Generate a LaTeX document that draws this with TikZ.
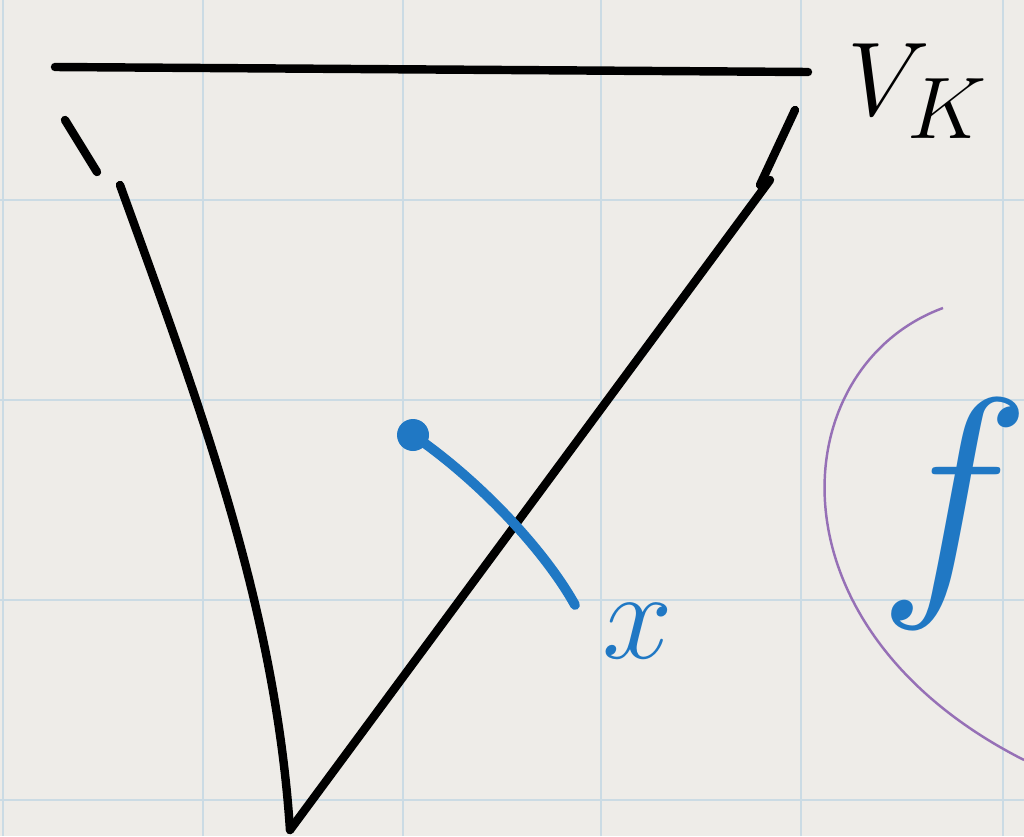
\documentclass[tikz,border=0pt]{standalone}
\usepackage{tikz}

\definecolor{paper}{RGB}{238,236,232}
\definecolor{gridblue}{RGB}{203,219,228}
\definecolor{penblue}{RGB}{32,120,196}
\definecolor{penpurple}{RGB}{150,112,182}

\tikzset{
    ink/.style={line width=2.4pt, line cap=round, line join=round},
    blueink/.style={line width=2.8pt, line cap=round, penblue},
}

\begin{document}
\begin{tikzpicture}[scale=1, transform shape]
    % paper and squared grid
    \fill[paper] (0,0) rectangle (10.24,8.36);
    \useasboundingbox (0,0) rectangle (10.24,8.36);
    \foreach \gx in {0.03,2.03,4.03,6.01,8.01,10.03}
        \draw[gridblue, line width=0.8pt] (\gx,0) -- (\gx,8.36);
    \foreach \gy in {0.36,2.36,4.36,6.36}
        \draw[gridblue, line width=0.8pt] (0,\gy) -- (10.24,\gy);

    \coordinate (L) at (0.55,7.69);
    \coordinate (R) at (8.08,7.64);
    \coordinate (A) at (1.20,6.51);
    \coordinate (B) at (2.90,0.06);
    \coordinate (C) at (7.70,6.56);

    % top line
    \draw[ink] (L) -- (R);
    \node (VK) at (9.18,7.45) [font=\Huge, scale=1.2] {$V_K$};

    % the cone
    \draw[ink] (0.65,7.16) -- (0.97,6.64);
    \draw[ink] (A) .. controls (2.0,4.3) and (2.75,2.3) .. (B);
    \draw[ink] (B) -- (C);
    \draw[ink] (7.60,6.51) -- (7.95,7.26);

    % the point x
    \coordinate (X) at (4.13,4.01);
    \fill[penblue] (X) circle (0.16);
    \draw[blueink] (X) .. controls (4.8,3.55) and (5.45,2.85) .. (5.75,2.31);
    \node (x) at (6.38,2.05) [penblue, font=\Huge, scale=1.45] {$x$};

    % f
    \draw[penpurple, line width=0.7pt] (9.43,5.28) .. controls (7.85,4.7) and (7.6,2.1) .. (10.24,0.76);
    \node (f) at (9.55,3.22) [penblue, font=\Huge, scale=2.95] {$f$};

\end{tikzpicture}
\end{document}
